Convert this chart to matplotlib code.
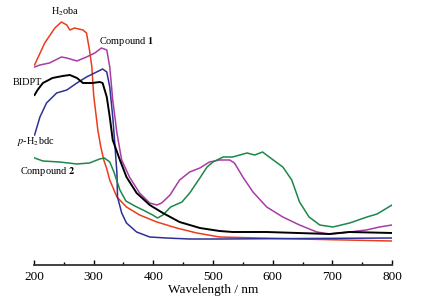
import matplotlib
matplotlib.use("Agg")
import matplotlib.pyplot as plt
from matplotlib.ticker import MultipleLocator

plt.rcParams['font.family'] = ['Liberation Serif', 'DejaVu Serif']
plt.rcParams['mathtext.fontset'] = 'stix'

# absorbance (arbitrary units)
h2oba_wl = [201, 218, 235, 246, 255, 260, 268, 282, 288, 293, 297, 300, 307, 312, 317, 322, 327,
            339, 355, 377, 406, 439, 473, 511, 645, 800]
h2oba_a = [2.00, 2.22, 2.37, 2.43, 2.40, 2.35, 2.37, 2.35, 2.32, 2.15, 1.98, 1.70, 1.35, 1.18,
           1.05, 0.96, 0.85, 0.68, 0.58, 0.50, 0.43, 0.37, 0.32, 0.28, 0.26, 0.24]

comp1_wl = [201, 210, 226, 246, 255, 272, 288, 302, 313, 322, 327, 332, 339, 344, 347, 360, 377,
            394, 406, 414, 428, 444, 461, 478, 494, 511, 528, 536, 550, 567, 590, 617, 645,
            674, 695, 729, 757, 779, 800]
comp1_a = [1.98, 2.00, 2.02, 2.08, 2.07, 2.04, 2.08, 2.12, 2.17, 2.15, 1.98, 1.65, 1.32, 1.15,
           1.05, 0.88, 0.72, 0.62, 0.60, 0.62, 0.70, 0.85, 0.93, 0.97, 1.03, 1.05, 1.05, 1.02,
           0.88, 0.73, 0.58, 0.48, 0.40, 0.33, 0.31, 0.33, 0.35, 0.38, 0.40]

bidpt_wl = [201, 206, 215, 231, 248, 260, 272, 282, 298, 310, 315, 322, 327, 332, 344, 355, 372,
            394, 416, 444, 478, 511, 533, 590, 695, 729, 800]
bidpt_a = [1.70, 1.75, 1.82, 1.87, 1.89, 1.90, 1.87, 1.82, 1.82, 1.83, 1.82, 1.68, 1.48, 1.25,
           1.05, 0.88, 0.72, 0.60, 0.52, 0.43, 0.37, 0.34, 0.33, 0.33, 0.31, 0.33, 0.32]

h2bdc_wl = [201, 210, 221, 238, 255, 272, 288, 305, 315, 322, 327, 332, 335, 339, 340, 347, 355,
            372, 394, 422, 461, 511, 800]
h2bdc_a = [1.30, 1.48, 1.62, 1.72, 1.75, 1.82, 1.88, 1.93, 1.96, 1.93, 1.78, 1.48, 1.25, 0.92,
           0.68, 0.52, 0.42, 0.33, 0.28, 0.27, 0.26, 0.26, 0.27]

comp2_wl = [201, 215, 243, 272, 293, 310, 318, 327, 334, 344, 354, 369, 386, 399, 407, 416, 429,
            448, 461, 478, 490, 500, 517, 533, 557, 570, 583, 601, 617, 632, 645, 661, 679,
            701, 729, 758, 775, 800]
comp2_a = [1.07, 1.04, 1.03, 1.01, 1.02, 1.06, 1.07, 1.03, 0.93, 0.75, 0.64, 0.59, 0.54, 0.50,
           0.47, 0.50, 0.58, 0.63, 0.72, 0.87, 0.98, 1.03, 1.08, 1.08, 1.12, 1.10, 1.13, 1.05,
           0.98, 0.85, 0.63, 0.48, 0.40, 0.38, 0.42, 0.48, 0.51, 0.60]

fig = plt.figure(figsize=(4.43, 3.08), dpi=100)
ax = fig.add_axes([0.0767, 0.1396, 0.8082, 0.8442])

ax.plot(h2oba_wl, h2oba_a, color='#ee3b1c', lw=1.1)
ax.plot(comp1_wl, comp1_a, color='#a83ca6', lw=1.1)
ax.plot(h2bdc_wl, h2bdc_a, color='#2e3196', lw=1.1)
ax.plot(comp2_wl, comp2_a, color='#1d8748', lw=1.1)
ax.plot(bidpt_wl, bidpt_a, color='black', lw=1.4)

ax.set_xlim(200, 800)
ax.set_ylim(0, 2.6)
for s in ['left', 'right', 'top']:
    ax.spines[s].set_visible(False)
ax.spines['bottom'].set_linewidth(1.3)
ax.spines['bottom'].set_color('#333333')
ax.set_yticks([])
ax.xaxis.set_major_locator(MultipleLocator(100))
ax.xaxis.set_minor_locator(MultipleLocator(50))
ax.tick_params(axis='x', which='major', direction='in', length=3.5, width=1, labelsize=9.5, pad=4)
ax.tick_params(axis='x', which='minor', direction='in', length=2, width=1)
ax.set_xlabel('Wavelength / nm', fontsize=9.5, labelpad=1)

lab = dict(fontsize=7.4, va='center', clip_on=False)
ax.text(252, 2.53, 'H$_2$oba', ha='center', **lab)
ax.text(309, 2.23, r'Compound $\mathbf{1}$', ha='left', **lab)
ax.text(165, 1.82, 'BIDPT', ha='left', **lab)
ax.text(172, 1.23, r'$p$-H$_2$bdc', ha='left', **lab)
ax.text(177, 0.93, r'Compound $\mathbf{2}$', ha='left', **lab)

fig.savefig('out.png', dpi=100)
